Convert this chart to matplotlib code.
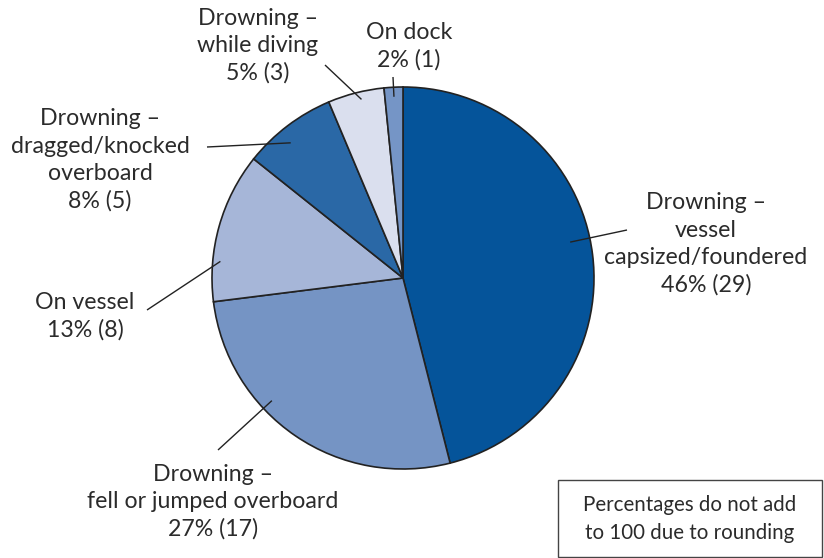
import numpy as np
import matplotlib
matplotlib.use("Agg")
import matplotlib.pyplot as plt
from matplotlib.patches import Rectangle

plt.rcParams['font.family'] = ['Lato', 'DejaVu Sans']

# Fatality circumstances (counts)
categories = [
    "Drowning –\nvessel\ncapsized/foundered",
    "Drowning –\nfell or jumped overboard",
    "On vessel",
    "Drowning –\ndragged/knocked\noverboard",
    "Drowning –\nwhile diving",
    "On dock",
]
counts = [29, 17, 8, 5, 3, 1]
colors = ["#05549a", "#7594c4", "#a6b6d8", "#2a68a6", "#dadfee", "#7595c6"]
note = "Percentages do not add\nto 100 due to rounding"

W, H = 824, 558
TEXT = "#2b2b2b"
LINE = "#222222"

fig = plt.figure(figsize=(W / 100, H / 100), dpi=100)
ax = fig.add_axes([0, 0, 1, 1])


def py(y):
    """Convert a top-down pixel row to axes y."""
    return H - y


cx, cy, R = 403, py(278), 191
wedges, _ = ax.pie(counts, colors=colors, startangle=90, counterclock=False,
                   center=(cx, cy), radius=R, frame=True,
                   wedgeprops=dict(edgecolor=LINE, linewidth=1.2))
ax.set_xlim(0, W)
ax.set_ylim(0, H)
ax.set_aspect('equal')
ax.axis('off')

total = sum(counts)
pct = [round(c / total * 100) for c in counts]

# leader line: position within wedge (fraction of its clockwise sweep),
# inner radius fraction, outer end point, label centre
leader_frac = [0.47, 0.63, 0.27, 0.41, 0.57, 0.5]
leader_rin = [0.895, 0.94, 0.96, 0.92, 0.96, 0.95]
leader_end = [(627, 230), (218, 450), (147, 310), (207, 147), (325, 65), (393, 77)]
label_pos = [(706, 244), (213, 502), (85, 316), (100, 160), (258, 46), (409, 46)]

for w, cat, c, p, f, rin, end, lp in zip(wedges, categories, counts, pct,
                                          leader_frac, leader_rin, leader_end, label_pos):
    t1, t2 = w.theta1, w.theta2
    ang = np.deg2rad(t2 - f * (t2 - t1))
    x0 = cx + rin * R * np.cos(ang)
    y0 = cy + rin * R * np.sin(ang)
    ax.plot([x0, end[0]], [y0, py(end[1])], color=LINE, lw=1.0,
            solid_capstyle='butt', zorder=5)
    ax.text(lp[0], py(lp[1]), f"{cat}\n{p}% ({c})", ha='center', va='center',
            fontsize=16.7, color=TEXT, linespacing=1.36)

# rounding note
ax.add_patch(Rectangle((558, py(557)), 264, 77, fill=False,
                       edgecolor="#444444", lw=1.0))
ax.text(690, py(519), note, ha='center', va='center', fontsize=14.8,
        color=TEXT, linespacing=1.48)

fig.savefig("out.png", dpi=100)
